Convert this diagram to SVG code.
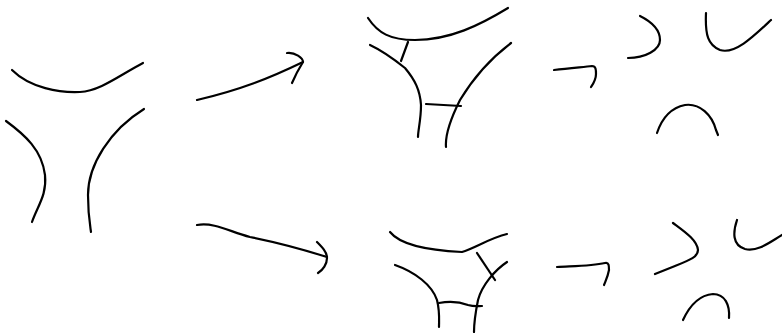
<svg xmlns="http://www.w3.org/2000/svg" width="782" height="333" viewBox="0 0 782 333">
<style>
path{fill:none;stroke:#000;stroke-width:2.2;stroke-linecap:round;stroke-linejoin:round}
</style>
<rect width="782" height="333" fill="#fff"/>
<g id="fig-start">
<path d="M12,70 C30,88 60,93 80,92 C100,91 120,75 143,63"/>
<path d="M6,121 C25,135 42,150 45,175 C47,195 38,205 32,222"/>
<path d="M144,109 C110,130 88,165 88,195 C88,215 90,225 91,232"/>
</g>
<g id="fig-top-mid">
<path d="M368,18 C378,33 390,40 415,40 C450,40 480,25 508,8"/>
<path d="M370,45 C385,52 395,60 405,68 C415,80 420,90 421,105 C421,120 418,130 418,137"/>
<path d="M408,42 L401,61"/>
<path d="M511,43 C495,55 475,75 460,100 C450,120 445,135 446,147"/>
<path d="M426,104 L461,106"/>
</g>
<g id="fig-bottom-mid">
<path d="M390,232 C398,242 420,250 462,252 C475,248 490,238 507,234"/>
<path d="M395,265 C415,272 432,285 437,300 C440,312 439,320 439,327"/>
<path d="M507,262 C495,270 482,285 478,300 C475,315 474,325 474,332"/>
<path d="M477,253 L495,280"/>
<path d="M439,303 C450,301 460,302 468,305 C475,307 478,306 482,306"/>
</g>
<g id="fig-top-right">
<path d="M640,16 C652,22 660,30 660,40 C660,50 645,58 628,58"/>
<path d="M706,13 C705,35 708,45 720,50 C735,55 755,35 771,20"/>
<path d="M657,133 C662,118 670,108 685,105 C700,103 712,115 716,130 L718,135"/>
</g>
<g id="fig-bottom-right">
<path d="M673,223 C685,232 697,240 698,250 C698,257 690,260 675,266 L655,274"/>
<path d="M737,220 C733,232 732,245 745,249 C758,252 770,242 782,235"/>
<path d="M683,320 C690,305 700,295 713,294 C725,294 730,305 729,318"/>
</g>
<g id="connectors">
<path d="M197,100 C240,90 270,78 303,62"/>
<path d="M287,53 C295,52 303,58 303,62 C298,70 295,76 292,83"/>
<path d="M197,225 C215,222 230,232 250,237 C280,243 305,250 327,257"/>
<path d="M317,242 C322,247 327,252 327,258 C327,264 323,270 318,273"/>
<path d="M554,70 C570,68 584,67 592,66 C596,66 596,70 596,74 C596,80 593,84 591,87"/>
<path d="M557,267 C575,266 592,266 605,263 C609,262 609,266 609,270 C608,276 606,280 604,285"/>
</g>
</svg>
